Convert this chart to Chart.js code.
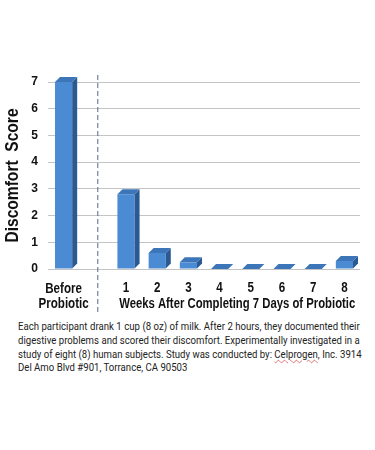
<!DOCTYPE html>
<html><head><meta charset="utf-8">
<script src="https://cdn.jsdelivr.net/npm/chart.js@4.4.1/dist/chart.umd.min.js"></script>
<style>
html,body{margin:0;padding:0;background:#fff;}
#wrap{position:relative;width:375px;height:320px;}
#cap{position:absolute;left:18px;top:320px;width:402px;transform:scaleX(0.85);transform-origin:0 0;font-family:Roboto,Arial,sans-serif;font-size:11.3px;color:#222;line-height:13.8px;}
#cap div{text-align:justify;text-align-last:justify;white-space:nowrap;}
#cap div.last{text-align-last:left;}
.sq{text-decoration:underline wavy #d66;text-decoration-thickness:1px;}
</style></head>
<body>
<div id="wrap"><canvas id="c" width="375" height="320"></canvas></div>
<div id="cap">
<div>Each participant drank 1 cup (8 oz) of milk. After 2 hours, they documented their</div>
<div>digestive problems and scored their discomfort. Experimentally investigated in a</div>
<div>study of eight (8) human subjects. Study was conducted by: <span class="sq">Celprogen</span>, Inc. 3914</div>
<div class="last">Del Amo Blvd #901, Torrance, CA 90503</div>
</div>
<script>
const categories = [["Before","Probiotic"], "", "1","2","3","4","5","6","7","8"];
const scores = [7.0, null, 2.8, 0.6, 0.25, 0, 0, 0, 0, 0.3];
const yTicks = [0,1,2,3,4,5,6,7];
const yTitle = "Discomfort  Score";
const xTitle = "Weeks After Completing 7 Days of Probiotic";

const FONT = "'Liberation Sans',Arial,sans-serif";

function narrow(ctx, text, x, y, sx, rot){
  ctx.save();
  ctx.translate(x,y);
  if (rot) ctx.rotate(rot);
  ctx.scale(sx,1);
  ctx.fillText(text,0,0);
  ctx.restore();
}

const bar3d = {
  id:'bar3d',
  afterDatasetsDraw(chart){
    const ctx = chart.ctx, d = 5;
    chart.getDatasetMeta(0).data.forEach((el,i)=>{
      if (scores[i]===null) return;
      const p = el.getProps(['x','y','base','width'],true);
      const l = p.x - p.width/2, r = p.x + p.width/2;
      ctx.save();
      ctx.fillStyle = '#2b5a92';
      ctx.beginPath();
      ctx.moveTo(r,p.y);ctx.lineTo(r+d,p.y-d);ctx.lineTo(r+d,p.base-d);ctx.lineTo(r,p.base);ctx.closePath();ctx.fill();
      ctx.fillStyle = '#3c76b8';
      ctx.beginPath();
      ctx.moveTo(l,p.y);ctx.lineTo(l+d,p.y-d);ctx.lineTo(r+d,p.y-d);ctx.lineTo(r,p.y);ctx.closePath();ctx.fill();
      ctx.restore();
    });
  },
  afterDraw(chart){
    const ctx = chart.ctx, xs = chart.scales.x, a = chart.chartArea;
    const xd = xs.getPixelForValue(1) + 3;
    ctx.save();
    ctx.strokeStyle = '#5a6a80';
    ctx.lineWidth = 1;
    ctx.setLineDash([5,3]);
    ctx.beginPath();ctx.moveTo(xd, a.top-7);ctx.lineTo(xd, 315);ctx.stroke();
    ctx.setLineDash([]);
    ctx.fillStyle = '#111';
    ctx.textAlign='center';ctx.textBaseline='middle';
    // x tick labels
    ctx.font = "bold 14.5px " + FONT;
    categories.forEach((c,i)=>{
      const x = xs.getPixelForValue(i);
      if (Array.isArray(c)) {
        narrow(ctx, c[0], x, 289, 0.8);
        narrow(ctx, c[1], x, 304, 0.8);
      } else if (c) {
        narrow(ctx, c, x, 288, 0.8);
      }
    });
    const cx = (xs.getPixelForValue(2)+xs.getPixelForValue(9))/2;
    narrow(ctx, xTitle, cx+2, 304, 0.78);
    // y title
    ctx.font = "bold 19px " + FONT;
    narrow(ctx, yTitle, 13, (a.top+a.bottom)/2, 0.82, -Math.PI/2);
    ctx.restore();
  }
};

new Chart(document.getElementById('c'), {
  type:'bar',
  data:{labels:categories, datasets:[{data:scores, backgroundColor:'#4a8bd3', borderWidth:0,
    barPercentage:0.55, categoryPercentage:1.0}]},
  options:{
    responsive:false, animation:false,
    layout:{padding:{top:82,right:15,left:0,bottom:0}},
    plugins:{legend:{display:false},tooltip:{enabled:false}},
    scales:{
      x:{grid:{display:false}, border:{display:false},
        ticks:{display:false},
        afterFit(s){s.height=51;}},
      y:{min:0,max:7, border:{display:false},
        afterBuildTicks(s){s.ticks = yTicks.map(v=>({value:v}));},
        grid:{color:'#c4c4c4', drawTicks:false},
        ticks:{color:'#111', font:{family:FONT,size:12,weight:'bold'}, padding:10},
        afterFit(s){s.width=48;}}
    }
  },
  plugins:[bar3d]
});
</script>
</body></html>
